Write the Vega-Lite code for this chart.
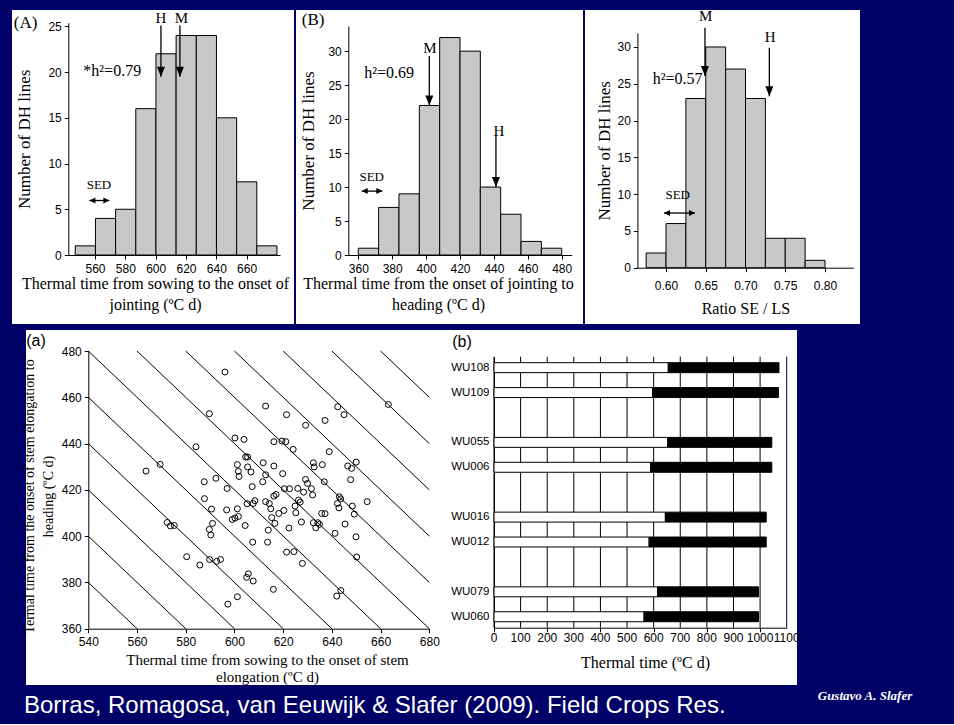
{
  "$schema": "https://vega.github.io/schema/vega-lite/v6.json",
  "background": "#000066",
  "padding": {"left": 12, "top": 9, "right": 21, "bottom": 6},
  "spacing": 6,
  "title": {"text": "Borras, Romagosa, van Eeuwijk & Slafer (2009). Field Crops Res.", "orient": "bottom", "anchor": "start", "frame": "group", "dx": 12, "offset": -9, "font": "Liberation Sans", "fontSize": 24, "fontWeight": "normal", "color": "white"},
  "config": {
    "view": {"fill": "white", "stroke": null},
    "axis": {"domainColor": "black", "tickColor": "black", "labelColor": "black", "titleColor": "black", "labelFont": "Liberation Sans", "labelFontSize": 12, "titleFont": "Liberation Serif", "titleFontWeight": "normal", "titleFontSize": 16, "titleLimit": 2000, "labelLimit": 500, "grid": false, "tickSize": 4, "labelPadding": 3, "labelFlush": false, "labelOverlap": false, "domainWidth": 1, "tickWidth": 1}
  },
  "datasets": {
    "histA": [
      {"x0": 547, "x1": 560.3, "n": 1}, {"x0": 560.3, "x1": 573.6, "n": 4}, {"x0": 573.6, "x1": 586.9, "n": 5},
      {"x0": 586.9, "x1": 600.2, "n": 16}, {"x0": 600.2, "x1": 613.5, "n": 22}, {"x0": 613.5, "x1": 626.8, "n": 24},
      {"x0": 626.8, "x1": 640.1, "n": 24}, {"x0": 640.1, "x1": 653.4, "n": 15}, {"x0": 653.4, "x1": 666.7, "n": 8},
      {"x0": 666.7, "x1": 680, "n": 1}
    ],
    "arrA": [
      {"x": 603.5, "top": 25.1, "tip": 19.5, "lx": 603.5, "ly": 25.9, "label": "H"},
      {"x": 616, "top": 25.1, "tip": 19.5, "lx": 617, "ly": 25.9, "label": "M"}
    ],
    "sedA": [{"x1": 556.3, "x2": 569.5, "y": 5.96, "lx": 562.6, "ly": 7.7, "t": "SED"}],
    "histB": [
      {"x0": 360, "x1": 372, "n": 1}, {"x0": 372, "x1": 384, "n": 7}, {"x0": 384, "x1": 396, "n": 9},
      {"x0": 396, "x1": 408, "n": 22}, {"x0": 408, "x1": 420, "n": 32}, {"x0": 420, "x1": 432, "n": 30},
      {"x0": 432, "x1": 444, "n": 10}, {"x0": 444, "x1": 456, "n": 6}, {"x0": 456, "x1": 468, "n": 2},
      {"x0": 468, "x1": 480, "n": 1}
    ],
    "arrB": [
      {"x": 401.9, "top": 29.3, "tip": 22, "lx": 402.3, "ly": 30.5, "label": "M"},
      {"x": 441.2, "top": 17.5, "tip": 10, "lx": 443, "ly": 18.3, "label": "H"}
    ],
    "sedB": [{"x1": 362, "x2": 374.2, "y": 9.4, "lx": 367.9, "ly": 11.5, "t": "SED"}],
    "histC": [
      {"x0": 0.575, "x1": 0.6, "n": 2}, {"x0": 0.6, "x1": 0.625, "n": 6}, {"x0": 0.625, "x1": 0.65, "n": 23},
      {"x0": 0.65, "x1": 0.675, "n": 30}, {"x0": 0.675, "x1": 0.7, "n": 27}, {"x0": 0.7, "x1": 0.725, "n": 23},
      {"x0": 0.725, "x1": 0.75, "n": 4}, {"x0": 0.75, "x1": 0.775, "n": 4}, {"x0": 0.775, "x1": 0.8, "n": 1}
    ],
    "arrC": [
      {"x": 0.649, "top": 32.6, "tip": 26.05, "lx": 0.65, "ly": 34.2, "label": "M"},
      {"x": 0.73, "top": 29.9, "tip": 23.3, "lx": 0.731, "ly": 31.35, "label": "H"}
    ],
    "sedC": [{"x1": 0.5975, "x2": 0.6365, "y": 7.43, "lx": 0.6147, "ly": 9.83, "t": "SED"}],
    "diag": [
      {"x1": 540, "y1": 380, "x2": 560, "y2": 360}, {"x1": 540, "y1": 400, "x2": 580, "y2": 360},
      {"x1": 540, "y1": 420, "x2": 600, "y2": 360}, {"x1": 540, "y1": 440, "x2": 620, "y2": 360},
      {"x1": 540, "y1": 460, "x2": 640, "y2": 360}, {"x1": 540, "y1": 480, "x2": 660, "y2": 360},
      {"x1": 560, "y1": 480, "x2": 680, "y2": 360}, {"x1": 580, "y1": 480, "x2": 680, "y2": 380},
      {"x1": 600, "y1": 480, "x2": 680, "y2": 400}, {"x1": 620, "y1": 480, "x2": 680, "y2": 420},
      {"x1": 640, "y1": 480, "x2": 680, "y2": 440}, {"x1": 660, "y1": 480, "x2": 680, "y2": 460}
    ],
    "scatter": [
      {"x": 596.1, "y": 470.9}, {"x": 589.7, "y": 452.9}, {"x": 612.8, "y": 456.2}, {"x": 621.4, "y": 452.5}, {"x": 629.2, "y": 447.9},
      {"x": 637.2, "y": 450.0}, {"x": 642.4, "y": 455.9}, {"x": 645.0, "y": 452.5}, {"x": 663.2, "y": 456.9},
      {"x": 584.2, "y": 438.6}, {"x": 600.2, "y": 442.4}, {"x": 603.9, "y": 441.8}, {"x": 616.2, "y": 440.8}, {"x": 619.5, "y": 441.1},
      {"x": 621.1, "y": 440.8}, {"x": 624.1, "y": 437.5}, {"x": 638.9, "y": 436.5},
      {"x": 563.7, "y": 428.1}, {"x": 569.5, "y": 431.0}, {"x": 587.6, "y": 423.5}, {"x": 592.4, "y": 425.0}, {"x": 597.0, "y": 420.6},
      {"x": 601.2, "y": 430.9}, {"x": 601.6, "y": 428.0}, {"x": 601.9, "y": 425.8}, {"x": 604.6, "y": 434.2}, {"x": 605.4, "y": 434.2},
      {"x": 605.4, "y": 429.9}, {"x": 606.8, "y": 427.7}, {"x": 607.3, "y": 421.4}, {"x": 611.8, "y": 431.7}, {"x": 611.6, "y": 423.5},
      {"x": 612.8, "y": 426.5}, {"x": 616.2, "y": 430.3}, {"x": 619.8, "y": 427.0}, {"x": 620.5, "y": 420.5}, {"x": 622.6, "y": 420.5},
      {"x": 626.0, "y": 420.6}, {"x": 628.4, "y": 419.0}, {"x": 629.2, "y": 424.5}, {"x": 630.0, "y": 422.8}, {"x": 631.6, "y": 420.5},
      {"x": 632.4, "y": 431.7}, {"x": 632.7, "y": 429.9}, {"x": 632.1, "y": 417.8}, {"x": 636.1, "y": 430.9}, {"x": 636.9, "y": 423.5},
      {"x": 587.7, "y": 416.2}, {"x": 590.6, "y": 411.7}, {"x": 596.8, "y": 411.3}, {"x": 601.2, "y": 411.8}, {"x": 605.2, "y": 414.0},
      {"x": 607.7, "y": 414.1}, {"x": 608.4, "y": 415.3}, {"x": 599.1, "y": 407.2}, {"x": 600.2, "y": 407.8}, {"x": 601.6, "y": 408.5},
      {"x": 589.7, "y": 402.9}, {"x": 590.3, "y": 400.5}, {"x": 591.0, "y": 405.5}, {"x": 604.4, "y": 404.6}, {"x": 612.8, "y": 414.9},
      {"x": 614.3, "y": 414.1}, {"x": 614.9, "y": 411.8}, {"x": 615.3, "y": 408.0}, {"x": 616.2, "y": 417.3}, {"x": 617.1, "y": 418.0},
      {"x": 616.6, "y": 405.5}, {"x": 613.9, "y": 402.6}, {"x": 618.2, "y": 409.8}, {"x": 620.3, "y": 411.1}, {"x": 622.4, "y": 403.5},
      {"x": 624.9, "y": 413.0}, {"x": 625.2, "y": 410.1}, {"x": 626.3, "y": 415.6}, {"x": 627.0, "y": 414.7}, {"x": 627.5, "y": 406.1},
      {"x": 632.4, "y": 405.8}, {"x": 633.4, "y": 403.6}, {"x": 634.2, "y": 405.8}, {"x": 634.9, "y": 405.1}, {"x": 635.8, "y": 409.8},
      {"x": 637.2, "y": 409.7}, {"x": 641.3, "y": 401.2}, {"x": 642.3, "y": 414.1}, {"x": 642.9, "y": 412.2}, {"x": 643.1, "y": 417.0},
      {"x": 643.6, "y": 416.1}, {"x": 646.5, "y": 430.3}, {"x": 648.1, "y": 429.3}, {"x": 650.0, "y": 432.0}, {"x": 647.7, "y": 424.4},
      {"x": 648.4, "y": 413.0}, {"x": 649.2, "y": 409.5}, {"x": 645.4, "y": 405.2}, {"x": 654.5, "y": 414.9}, {"x": 650.2, "y": 391.0},
      {"x": 649.9, "y": 399.7}, {"x": 643.7, "y": 376.5}, {"x": 642.0, "y": 374.1}, {"x": 627.9, "y": 388.2}, {"x": 624.4, "y": 393.3},
      {"x": 621.4, "y": 393.1}, {"x": 616.0, "y": 377.0}, {"x": 607.7, "y": 380.6}, {"x": 605.7, "y": 383.7}, {"x": 605.0, "y": 382.2},
      {"x": 601.2, "y": 373.8}, {"x": 597.3, "y": 370.6}, {"x": 607.5, "y": 397.4}, {"x": 613.6, "y": 397.4}, {"x": 580.4, "y": 391.1},
      {"x": 585.8, "y": 387.5}, {"x": 589.8, "y": 389.9}, {"x": 592.7, "y": 389.1}, {"x": 594.3, "y": 389.9}, {"x": 572.4, "y": 405.9},
      {"x": 573.7, "y": 404.4}, {"x": 575.3, "y": 404.6}
    ],
    "lines": [
      {"line": "WU108", "s": 655, "e": 1071},
      {"line": "WU109", "s": 596, "e": 1069},
      {"line": "WU055", "s": 653, "e": 1044},
      {"line": "WU006", "s": 589, "e": 1044},
      {"line": "WU016", "s": 644, "e": 1023},
      {"line": "WU012", "s": 583, "e": 1023},
      {"line": "WU079", "s": 615, "e": 994},
      {"line": "WU060", "s": 564, "e": 994}
    ],
    "xticks": [
      {"g": 0}, {"g": 100}, {"g": 200}, {"g": 300}, {"g": 400}, {"g": 500}, {"g": 600},
      {"g": 700}, {"g": 800}, {"g": 900}, {"g": 1000}, {"g": 1100}
    ]
  },
  "vconcat": [
    {
      "hconcat": [
        {
          "width": 282, "height": 314,
          "layer": [
            {"data": {"name": "histA"}, "mark": {"type": "bar", "fill": "#c8c8c8", "stroke": "black", "strokeWidth": 1},
             "encoding": {
               "x": {"field": "x0", "type": "quantitative", "scale": {"domain": [542.4, 682], "range": [56.3, 268], "nice": false, "zero": false},
                     "axis": {"offset": -69, "values": [560, 580, 600, 620, 640, 660], "title": ["Thermal time from sowing to the onset of", "jointing (ºC d)"], "titleX": 143, "titleLineHeight": 21, "titlePadding": 1, "labelPadding": 4}},
               "x2": {"field": "x1"},
               "y": {"field": "n", "type": "quantitative", "scale": {"domain": [0, 25.4], "range": [245, 12.7], "nice": false},
                     "axis": {"offset": -56.3, "values": [0, 5, 10, 15, 20, 25], "title": "Number of DH lines", "titleFontSize": 17, "titlePadding": 14}},
               "y2": {"datum": 0}
             }},
            {"data": {"name": "arrA"}, "mark": {"type": "rule", "color": "black", "strokeWidth": 1.3},
             "encoding": {"x": {"field": "x", "type": "quantitative"}, "y": {"field": "top", "type": "quantitative"}, "y2": {"field": "tip"}}},
            {"data": {"name": "arrA"}, "mark": {"type": "point", "shape": "M-1,-2.5L1,-2.5L0,0Z", "filled": true, "color": "black", "opacity": 1, "size": 64},
             "encoding": {"x": {"field": "x", "type": "quantitative"}, "y": {"field": "tip", "type": "quantitative"}}},
            {"data": {"name": "arrA"}, "mark": {"type": "text", "font": "Liberation Serif", "fontSize": 15, "baseline": "middle", "color": "black"},
             "encoding": {"x": {"field": "lx", "type": "quantitative"}, "y": {"field": "ly", "type": "quantitative"}, "text": {"field": "label"}}},
            {"data": {"values": [{"x": 552.3, "y": 20.1, "t": "*h²=0.79"}]}, "mark": {"type": "text", "font": "Liberation Serif", "fontSize": 16, "align": "left", "baseline": "middle", "color": "black"},
             "encoding": {"x": {"field": "x", "type": "quantitative"}, "y": {"field": "y", "type": "quantitative"}, "text": {"field": "t"}}},
            {"data": {"name": "sedA"}, "mark": {"type": "rule", "color": "black", "strokeWidth": 1.3},
             "encoding": {"x": {"field": "x1", "type": "quantitative"}, "x2": {"field": "x2"}, "y": {"field": "y", "type": "quantitative"}}},
            {"data": {"name": "sedA"}, "mark": {"type": "point", "shape": "M0,0L2,-1L2,1Z", "filled": true, "color": "black", "opacity": 1, "size": 36},
             "encoding": {"x": {"field": "x1", "type": "quantitative"}, "y": {"field": "y", "type": "quantitative"}}},
            {"data": {"name": "sedA"}, "mark": {"type": "point", "shape": "M0,0L-2,-1L-2,1Z", "filled": true, "color": "black", "opacity": 1, "size": 36},
             "encoding": {"x": {"field": "x2", "type": "quantitative"}, "y": {"field": "y", "type": "quantitative"}}},
            {"data": {"name": "sedA"}, "mark": {"type": "text", "font": "Liberation Serif", "fontSize": 13, "baseline": "middle", "color": "black"},
             "encoding": {"x": {"field": "lx", "type": "quantitative"}, "y": {"field": "ly", "type": "quantitative"}, "text": {"field": "t"}}},
            {"data": {"values": [{"x": 514.2, "y": 25.35, "t": "(A)"}]}, "mark": {"type": "text", "font": "Liberation Serif", "fontSize": 17, "baseline": "middle", "color": "black"},
             "encoding": {"x": {"field": "x", "type": "quantitative"}, "y": {"field": "y", "type": "quantitative"}, "text": {"field": "t"}}}
          ]
        },
        {
          "width": 287, "height": 314,
          "layer": [
            {"data": {"name": "histB"}, "mark": {"type": "bar", "fill": "#c8c8c8", "stroke": "black", "strokeWidth": 1},
             "encoding": {
               "x": {"field": "x0", "type": "quantitative", "scale": {"domain": [354.1, 485.9], "range": [52.3, 275.7], "nice": false, "zero": false},
                     "axis": {"offset": -69, "values": [360, 380, 400, 420, 440, 460, 480], "title": ["Thermal time from the onset of jointing to", "heading (ºC d)"], "titleX": 142, "titleLineHeight": 21, "titlePadding": 1, "labelPadding": 4}},
               "x2": {"field": "x1"},
               "y": {"field": "n", "type": "quantitative", "scale": {"domain": [0, 33.7], "range": [245, 16], "nice": false},
                     "axis": {"offset": -52.3, "values": [0, 5, 10, 15, 20, 25, 30], "title": "Number of DH lines", "titleFontSize": 17, "titlePadding": 10}},
               "y2": {"datum": 0}
             }},
            {"data": {"name": "arrB"}, "mark": {"type": "rule", "color": "black", "strokeWidth": 1.3},
             "encoding": {"x": {"field": "x", "type": "quantitative"}, "y": {"field": "top", "type": "quantitative"}, "y2": {"field": "tip"}}},
            {"data": {"name": "arrB"}, "mark": {"type": "point", "shape": "M-1,-2.5L1,-2.5L0,0Z", "filled": true, "color": "black", "opacity": 1, "size": 64},
             "encoding": {"x": {"field": "x", "type": "quantitative"}, "y": {"field": "tip", "type": "quantitative"}}},
            {"data": {"name": "arrB"}, "mark": {"type": "text", "font": "Liberation Serif", "fontSize": 15, "baseline": "middle", "color": "black"},
             "encoding": {"x": {"field": "lx", "type": "quantitative"}, "y": {"field": "ly", "type": "quantitative"}, "text": {"field": "label"}}},
            {"data": {"values": [{"x": 363.5, "y": 26.8, "t": "h²=0.69"}]}, "mark": {"type": "text", "font": "Liberation Serif", "fontSize": 16, "align": "left", "baseline": "middle", "color": "black"},
             "encoding": {"x": {"field": "x", "type": "quantitative"}, "y": {"field": "y", "type": "quantitative"}, "text": {"field": "t"}}},
            {"data": {"name": "sedB"}, "mark": {"type": "rule", "color": "black", "strokeWidth": 1.3},
             "encoding": {"x": {"field": "x1", "type": "quantitative"}, "x2": {"field": "x2"}, "y": {"field": "y", "type": "quantitative"}}},
            {"data": {"name": "sedB"}, "mark": {"type": "point", "shape": "M0,0L2,-1L2,1Z", "filled": true, "color": "black", "opacity": 1, "size": 36},
             "encoding": {"x": {"field": "x1", "type": "quantitative"}, "y": {"field": "y", "type": "quantitative"}}},
            {"data": {"name": "sedB"}, "mark": {"type": "point", "shape": "M0,0L-2,-1L-2,1Z", "filled": true, "color": "black", "opacity": 1, "size": 36},
             "encoding": {"x": {"field": "x2", "type": "quantitative"}, "y": {"field": "y", "type": "quantitative"}}},
            {"data": {"name": "sedB"}, "mark": {"type": "text", "font": "Liberation Serif", "fontSize": 13, "baseline": "middle", "color": "black"},
             "encoding": {"x": {"field": "lx", "type": "quantitative"}, "y": {"field": "ly", "type": "quantitative"}, "text": {"field": "t"}}},
            {"data": {"values": [{"x": 333.3, "y": 34.6, "t": "(B)"}]}, "mark": {"type": "text", "font": "Liberation Serif", "fontSize": 17, "baseline": "middle", "color": "black"},
             "encoding": {"x": {"field": "x", "type": "quantitative"}, "y": {"field": "y", "type": "quantitative"}, "text": {"field": "t"}}}
          ]
        },
        {
          "width": 275, "height": 314,
          "layer": [
            {"data": {"name": "histC"}, "mark": {"type": "bar", "fill": "#c8c8c8", "stroke": "black", "strokeWidth": 1},
             "encoding": {
               "x": {"field": "x0", "type": "quantitative", "scale": {"domain": [0.564, 0.8356], "range": [52.4, 268.3], "nice": false, "zero": false},
                     "axis": {"offset": -56.3, "values": [0.6, 0.65, 0.7, 0.75, 0.8], "format": ".2f", "title": "Ratio SE / LS", "titlePadding": 9, "labelPadding": 9}},
               "x2": {"field": "x1"},
               "y": {"field": "n", "type": "quantitative", "scale": {"domain": [0, 31.9], "range": [257.7, 23], "nice": false},
                     "axis": {"offset": -52.4, "values": [0, 5, 10, 15, 20, 25, 30], "title": "Number of DH lines", "titleFontSize": 17, "titlePadding": 4}},
               "y2": {"datum": 0}
             }},
            {"data": {"name": "arrC"}, "mark": {"type": "rule", "color": "black", "strokeWidth": 1.3},
             "encoding": {"x": {"field": "x", "type": "quantitative"}, "y": {"field": "top", "type": "quantitative"}, "y2": {"field": "tip"}}},
            {"data": {"name": "arrC"}, "mark": {"type": "point", "shape": "M-1,-2.5L1,-2.5L0,0Z", "filled": true, "color": "black", "opacity": 1, "size": 64},
             "encoding": {"x": {"field": "x", "type": "quantitative"}, "y": {"field": "tip", "type": "quantitative"}}},
            {"data": {"name": "arrC"}, "mark": {"type": "text", "font": "Liberation Serif", "fontSize": 15, "baseline": "middle", "color": "black"},
             "encoding": {"x": {"field": "lx", "type": "quantitative"}, "y": {"field": "ly", "type": "quantitative"}, "text": {"field": "label"}}},
            {"data": {"values": [{"x": 0.5832, "y": 25.6, "t": "h²=0.57"}]}, "mark": {"type": "text", "font": "Liberation Serif", "fontSize": 16, "align": "left", "baseline": "middle", "color": "black"},
             "encoding": {"x": {"field": "x", "type": "quantitative"}, "y": {"field": "y", "type": "quantitative"}, "text": {"field": "t"}}},
            {"data": {"name": "sedC"}, "mark": {"type": "rule", "color": "black", "strokeWidth": 1.3},
             "encoding": {"x": {"field": "x1", "type": "quantitative"}, "x2": {"field": "x2"}, "y": {"field": "y", "type": "quantitative"}}},
            {"data": {"name": "sedC"}, "mark": {"type": "point", "shape": "M0,0L2,-1L2,1Z", "filled": true, "color": "black", "opacity": 1, "size": 36},
             "encoding": {"x": {"field": "x1", "type": "quantitative"}, "y": {"field": "y", "type": "quantitative"}}},
            {"data": {"name": "sedC"}, "mark": {"type": "point", "shape": "M0,0L-2,-1L-2,1Z", "filled": true, "color": "black", "opacity": 1, "size": 36},
             "encoding": {"x": {"field": "x2", "type": "quantitative"}, "y": {"field": "y", "type": "quantitative"}}},
            {"data": {"name": "sedC"}, "mark": {"type": "text", "font": "Liberation Serif", "fontSize": 13, "baseline": "middle", "color": "black"},
             "encoding": {"x": {"field": "lx", "type": "quantitative"}, "y": {"field": "ly", "type": "quantitative"}, "text": {"field": "t"}}}
          ]
        }
      ],
      "spacing": 2,
      "bounds": "flush"
    },
    {
      "hconcat": [
        {
          "width": 14, "height": 355,
          "view": {"fill": null, "stroke": null},
          "data": {"values": [{"t": ""}]},
          "mark": {"type": "text"},
          "encoding": {"text": {"field": "t"}}
        },
        {
          "width": 415, "height": 355,
          "layer": [
            {"data": {"name": "diag"}, "mark": {"type": "rule", "color": "black", "strokeWidth": 1},
             "encoding": {
               "x": {"field": "x1", "type": "quantitative", "scale": {"domain": [540, 680], "range": [62.3, 403.3], "nice": false, "zero": false},
                     "axis": {"offset": -56.3, "values": [540, 560, 580, 600, 620, 640, 660, 680], "title": ["Thermal time from sowing to the onset of stem", "elongation (ºC d)"], "titleX": 241, "titleFontSize": 15, "titleLineHeight": 17, "titlePadding": 5, "labelPadding": 4}},
               "y": {"field": "y1", "type": "quantitative", "scale": {"domain": [360, 480], "range": [298.7, 21], "nice": false, "zero": false},
                     "axis": {"offset": -62.3, "values": [360, 380, 400, 420, 440, 460, 480], "title": ["Termal time from the onset of stem elongation to", "heading (ºC d)"], "titleY": 166, "titleFontSize": 14, "titleLineHeight": 19, "titlePadding": 6}},
               "x2": {"field": "x2"},
               "y2": {"field": "y2"}
             }},
            {"data": {"name": "scatter"}, "mark": {"type": "point", "shape": "circle", "filled": false, "color": "black", "strokeWidth": 1, "size": 36, "opacity": 1},
             "encoding": {"x": {"field": "x", "type": "quantitative"}, "y": {"field": "y", "type": "quantitative"}}},
            {"data": {"values": [{"x": 518.5, "y": 484.3, "t": "(a)"}]}, "mark": {"type": "text", "font": "Liberation Sans", "fontSize": 16, "baseline": "middle", "color": "black"},
             "encoding": {"x": {"field": "x", "type": "quantitative"}, "y": {"field": "y", "type": "quantitative"}, "text": {"field": "t"}}}
          ]
        },
        {
          "width": 356, "height": 355,
          "layer": [
            {"data": {"name": "xticks"}, "mark": {"type": "rule", "color": "black", "strokeWidth": 1},
             "encoding": {
               "x": {"field": "g", "type": "quantitative", "scale": {"domain": [0, 1100], "range": [53, 345.7], "nice": false},
                     "axis": {"offset": -57.3, "values": [0, 100, 200, 300, 400, 500, 600, 700, 800, 900, 1000, 1100], "labels": false, "title": "Thermal time (ºC d)", "titleX": 204, "titlePadding": 22}},
               "y": {"datum": "WU108", "type": "nominal", "bandPosition": -0.6},
               "y2": {"datum": "WU060", "bandPosition": 1.6}
             }},
            {"data": {"name": "xticks"}, "mark": {"type": "text", "font": "Liberation Sans", "fontSize": 12, "baseline": "middle", "color": "black"},
             "encoding": {
               "x": {"field": "g", "type": "quantitative"},
               "y": {"datum": "WU060", "type": "nominal", "bandPosition": 2.64},
               "text": {"field": "g", "type": "quantitative", "format": "d"}
             }},
            {"data": {"name": "lines"}, "mark": {"type": "bar", "fill": "white", "stroke": "black", "strokeWidth": 1},
             "encoding": {
               "x": {"field": "s", "type": "quantitative"},
               "x2": {"datum": 0},
               "y": {"field": "line", "type": "nominal", "sort": null,
                     "scale": {"domain": ["WU108", "WU109", " ", "WU055", "WU006", "  ", "WU016", "WU012", "   ", "WU079", "WU060"], "range": [26.7, 297.7], "paddingInner": 0.6, "paddingOuter": 0.24},
                     "axis": {"offset": -53, "ticks": false, "title": null, "grid": false, "labelFont": "Liberation Sans", "labelFontSize": 11.5, "labelPadding": 5}}
             }},
            {"data": {"name": "lines"}, "mark": {"type": "bar", "fill": "black", "stroke": "black", "strokeWidth": 1},
             "encoding": {"x": {"field": "s", "type": "quantitative"}, "x2": {"field": "e"}, "y": {"field": "line", "type": "nominal"}}},
            {"data": {"values": [{"x": -120, "t": "(b)"}]}, "mark": {"type": "text", "font": "Liberation Sans", "fontSize": 16, "baseline": "middle", "color": "black", "dy": -26},
             "encoding": {"x": {"field": "x", "type": "quantitative"}, "y": {"datum": "WU108", "type": "nominal"}, "text": {"field": "t"}}}
          ]
        },
        {
          "width": 136, "height": 355,
          "view": {"fill": null, "stroke": null},
          "data": {"values": [{"t": ""}]},
          "mark": {"type": "text"},
          "encoding": {"text": {"field": "t"}},
          "title": {"text": "Gustavo A. Slafer", "orient": "bottom", "anchor": "middle", "offset": 5, "font": "Liberation Serif", "fontStyle": "italic", "fontWeight": "bold", "fontSize": 13, "color": "white"}
        }
      ],
      "spacing": 0,
      "bounds": "flush"
    }
  ]
}
